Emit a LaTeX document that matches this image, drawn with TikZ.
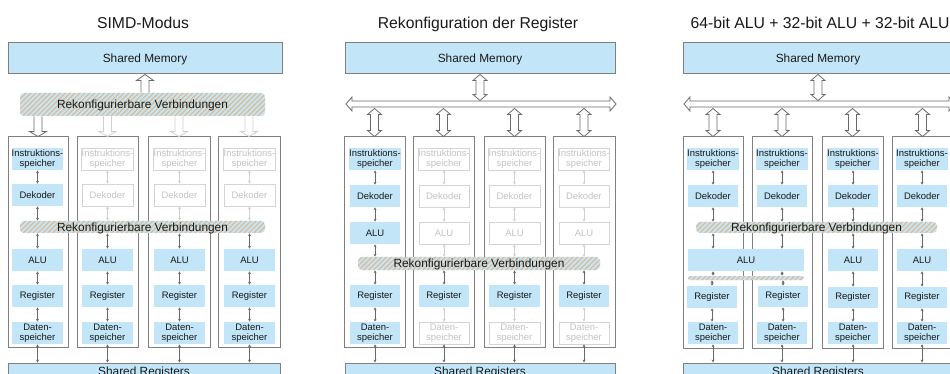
\documentclass[tikz,border=0pt]{standalone}
\usepackage{fontspec}
\setmainfont{Liberation Sans}
\usetikzlibrary{calc,arrows.meta,patterns.meta}
\definecolor{boxblue}{RGB}{194,230,248}
\definecolor{framegray}{RGB}{128,128,128}
\definecolor{ghostline}{RGB}{212,212,212}
\definecolor{ghosttext}{RGB}{195,195,195}
\definecolor{hatchtan}{RGB}{226,186,142}
\definecolor{txt}{RGB}{25,25,25}
\definecolor{arrdark}{RGB}{105,105,105}
\definecolor{arrlight}{RGB}{208,208,208}
% box node from corner (#2,#3) to (#4,#5), in px
\newcommand\bx[7]{\node[#6, minimum width={(#4-#2)*0.75pt}, minimum height={(#5-#3)*0.75pt}] (#1) at ({(#2+#4)/2},{(#3+#5)/2}) {#7};}
% small connectors
\newcommand\va[3]{\draw[#3] (#1.south) -- (#1.south |- #2.north);}
\newcommand\vb[3]{\draw[#3] (#2.north |- #1.south) -- (#2.north);}
\newcommand\vx[4]{\draw[#4] (#3.center |- #1.south) -- (#3.center |- #2.north);}
% hollow arrows
\newcommand\hdown[3]{\filldraw[#3] let \p1=(#1), \p2=(#2) in (\x2-3pt,\y1) -- (\x2-3pt,\y2+3.75pt) -- (\x2-6.4pt,\y2+3.75pt) -- (\x2,\y2) -- (\x2+6.4pt,\y2+3.75pt) -- (\x2+3pt,\y2+3.75pt) -- (\x2+3pt,\y1);}
\newcommand\hup[3]{\filldraw[#3] let \p1=(#1), \p2=(#2) in (\x2-3pt,\y1) -- (\x2-3pt,\y2-4.5pt) -- (\x2-6.4pt,\y2-4.5pt) -- (\x2,\y2) -- (\x2+6.4pt,\y2-4.5pt) -- (\x2+3pt,\y2-4.5pt) -- (\x2+3pt,\y1);}
\newcommand\hboth[3]{\filldraw[#3] let \p1=(#1), \p2=(#2) in (\x2,\y1) -- (\x2+5.25pt,\y1-4.5pt) -- (\x2+3pt,\y1-4.5pt) -- (\x2+3pt,\y2+4.5pt) -- (\x2+5.25pt,\y2+4.5pt) -- (\x2,\y2) -- (\x2-5.25pt,\y2+4.5pt) -- (\x2-3pt,\y2+4.5pt) -- (\x2-3pt,\y1-4.5pt) -- (\x2-5.25pt,\y1-4.5pt) -- cycle;}
\newcommand\hbus[3]{\filldraw[#3] let \p1=(#1), \p2=(#2) in (\x1,\y1) -- (\x1+4.5pt,\y1+5.25pt) -- (\x1+4.5pt,\y1+2.25pt) -- (\x2-4.5pt,\y1+2.25pt) -- (\x2-4.5pt,\y1+5.25pt) -- (\x2,\y1) -- (\x2-4.5pt,\y1-5.25pt) -- (\x2-4.5pt,\y1-2.25pt) -- (\x1+4.5pt,\y1-2.25pt) -- (\x1+4.5pt,\y1-5.25pt) -- cycle;}
\begin{document}
\begin{tikzpicture}[x=0.75pt,y=-0.75pt,
  title/.style={anchor=base, inner sep=0pt, font=\fontsize{11.8}{13}\selectfont, text=txt},
  blk/.style={draw=framegray, line width=0.75pt, fill=boxblue, inner sep=0pt, text depth=0pt, font=\fontsize{8.9}{10}\selectfont, text=txt},
  colbox/.style={draw=framegray, line width=0.75pt, inner sep=0pt},
  act/.style={fill=boxblue, inner sep=0pt, align=center, font=\fontsize{7.1}{7.9}\selectfont, text=txt},
  ghost/.style={fill=white, draw=ghostline, line width=0.6pt, inner sep=0pt, align=center, font=\fontsize{7.1}{7.9}\selectfont, text=ghosttext},
  band/.style={rounded corners=3pt, fill=boxblue, postaction={pattern={Lines[angle=45,distance=2.6pt,line width=0.9pt]}, pattern color=hatchtan}, inner sep=0pt, text depth=0pt, font=\fontsize{8.9}{10}\selectfont, text=txt},
  sband/.style={band, rounded corners=1.5pt},
  sa/.style={arrows={Stealth[length=2.2pt,width=2.2pt]-Stealth[length=2.2pt,width=2.2pt]}, draw=arrdark, line width=0.55pt},
  sal/.style={sa, draw=arrlight},
  hol/.style={draw=arrdark, fill=white, line width=0.6pt, line join=miter},
  holl/.style={hol, draw=arrlight}]
\useasboundingbox (0,0) rectangle (950,374);
\clip (0,0) rectangle (950,374);
\fill[white] (0,0) rectangle (950,374);

%================ Panel 1: SIMD-Modus
\node[title] (t1) at (143,29) {SIMD-Modus};
\bx{sm1}{8}{43}{282}{74}{blk}{Shared Memory}
\bx{sr1}{8}{363}{280}{379}{blk}{Shared Registers}
\bx{a1}{8}{137}{68}{347}{colbox}{}
\bx{a2}{77}{137}{138}{347}{colbox}{}
\bx{a3}{148}{137}{210}{347}{colbox}{}
\bx{a4}{218}{137}{280}{347}{colbox}{}
% column 1
\bx{a1i}{12}{148}{63}{170}{act}{Instruktions-\\speicher}
\bx{a1d}{12}{184}{63}{206}{act}{Dekoder}
\bx{a1u}{12}{249}{63}{271}{act}{ALU}
\bx{a1r}{12}{285}{63}{307}{act}{Register}
\bx{a1s}{12}{322}{63}{344}{act}{Daten-\\speicher}
% column 2
\bx{a2i}{82}{148}{133}{170}{ghost}{Instruktions-\\speicher}
\bx{a2d}{82}{184}{133}{206}{ghost}{Dekoder}
\bx{a2u}{82}{249}{133}{271}{act}{ALU}
\bx{a2r}{82}{285}{133}{307}{act}{Register}
\bx{a2s}{82}{322}{133}{344}{act}{Daten-\\speicher}
% column 3
\bx{a3i}{154}{148}{205}{170}{ghost}{Instruktions-\\speicher}
\bx{a3d}{154}{184}{205}{206}{ghost}{Dekoder}
\bx{a3u}{154}{249}{205}{271}{act}{ALU}
\bx{a3r}{154}{285}{205}{307}{act}{Register}
\bx{a3s}{154}{322}{205}{344}{act}{Daten-\\speicher}
% column 4
\bx{a4i}{224}{148}{275}{170}{ghost}{Instruktions-\\speicher}
\bx{a4d}{224}{184}{275}{206}{ghost}{Dekoder}
\bx{a4u}{224}{249}{275}{271}{act}{ALU}
\bx{a4r}{224}{285}{275}{307}{act}{Register}
\bx{a4s}{224}{322}{275}{344}{act}{Daten-\\speicher}
% bands
\bx{aB}{20}{93}{265}{116}{band}{Rekonfigurierbare Verbindungen}
\bx{aV}{20}{221}{265}{233}{band}{Rekonfigurierbare Verbindungen}
% hollow arrows
\hup{aB.north}{sm1.south}{hol}
\hdown{aB.south -| a1.north}{a1.north}{hol}
\hdown{aB.south -| a2.north}{a2.north}{holl}
\hdown{aB.south -| a3.north}{a3.north}{holl}
\hdown{aB.south -| a4.north}{a4.north}{holl}
% small connectors
\va{a1i}{a1d}{sa} \va{a1d}{aV}{sa} \vb{aV}{a1u}{sa} \va{a1u}{a1r}{sa} \va{a1r}{a1s}{sa} \va{a1s}{sr1}{sa}
\va{a2i}{a2d}{sal} \va{a2d}{aV}{sal} \vb{aV}{a2u}{sa} \va{a2u}{a2r}{sa} \va{a2r}{a2s}{sa} \va{a2s}{sr1}{sa}
\va{a3i}{a3d}{sal} \va{a3d}{aV}{sal} \vb{aV}{a3u}{sa} \va{a3u}{a3r}{sa} \va{a3r}{a3s}{sa} \va{a3s}{sr1}{sa}
\va{a4i}{a4d}{sal} \va{a4d}{aV}{sal} \vb{aV}{a4u}{sa} \va{a4u}{a4r}{sa} \va{a4r}{a4s}{sa} \va{a4s}{sr1}{sa}

%================ Panel 2: Rekonfiguration der Register
\node[title] (t2) at (478,29) {Rekonfiguration der Register};
\bx{sm2}{345}{43}{615}{74}{blk}{Shared Memory}
\bx{sr2}{345}{363}{615}{379}{blk}{Shared Registers}
\bx{b1}{344}{137}{405}{347}{colbox}{}
\bx{b2}{413}{137}{474}{347}{colbox}{}
\bx{b3}{484}{137}{545}{347}{colbox}{}
\bx{b4}{553}{137}{615}{347}{colbox}{}
% column 1
\bx{b1i}{350}{148}{400}{170}{act}{Instruktions-\\speicher}
\bx{b1d}{350}{185}{400}{207}{act}{Dekoder}
\bx{b1u}{350}{222}{400}{244}{act}{ALU}
\bx{b1r}{350}{285}{400}{307}{act}{Register}
\bx{b1s}{350}{322}{400}{344}{act}{Daten-\\speicher}
% column 2
\bx{b2i}{419}{148}{469}{170}{ghost}{Instruktions-\\speicher}
\bx{b2d}{419}{185}{469}{207}{ghost}{Dekoder}
\bx{b2u}{419}{222}{469}{244}{ghost}{ALU}
\bx{b2r}{419}{285}{469}{307}{act}{Register}
\bx{b2s}{419}{322}{469}{344}{ghost}{Daten-\\speicher}
% column 3
\bx{b3i}{489}{148}{540}{170}{ghost}{Instruktions-\\speicher}
\bx{b3d}{489}{185}{540}{207}{ghost}{Dekoder}
\bx{b3u}{489}{222}{540}{244}{ghost}{ALU}
\bx{b3r}{489}{285}{540}{307}{act}{Register}
\bx{b3s}{489}{322}{540}{344}{ghost}{Daten-\\speicher}
% column 4
\bx{b4i}{559}{148}{609}{170}{ghost}{Instruktions-\\speicher}
\bx{b4d}{559}{185}{609}{207}{ghost}{Dekoder}
\bx{b4u}{559}{222}{609}{244}{ghost}{ALU}
\bx{b4r}{559}{285}{609}{307}{act}{Register}
\bx{b4s}{559}{322}{609}{344}{ghost}{Daten-\\speicher}
% band
\bx{bV}{358}{257}{600}{270}{band}{Rekonfigurierbare Verbindungen}
% bus and hollow arrows
\coordinate (bL) at (346,104);
\coordinate (bR) at (616,104);
\coordinate (bT) at (480,100.5);
\coordinate (bD) at (480,108.5);
\hboth{bD -| b1.north}{b1.north}{hol}
\hboth{bD -| b2.north}{b2.north}{hol}
\hboth{bD -| b3.north}{b3.north}{hol}
\hboth{bD -| b4.north}{b4.north}{hol}
\hbus{bL}{bR}{hol}
\hboth{sm2.south}{bT}{hol}
% small connectors
\va{b1i}{b1d}{sa} \va{b1d}{b1u}{sa} \va{b1u}{bV}{sa} \vb{bV}{b1r}{sa} \va{b1r}{b1s}{sa} \va{b1s}{sr2}{sa}
\va{b2i}{b2d}{sal} \va{b2d}{b2u}{sal} \va{b2u}{bV}{sal} \vb{bV}{b2r}{sa} \va{b2r}{b2s}{sal} \va{b2s}{sr2}{sa}
\va{b3i}{b3d}{sal} \va{b3d}{b3u}{sal} \va{b3u}{bV}{sal} \vb{bV}{b3r}{sa} \va{b3r}{b3s}{sal} \va{b3s}{sr2}{sa}
\va{b4i}{b4d}{sal} \va{b4d}{b4u}{sal} \va{b4u}{bV}{sal} \vb{bV}{b4r}{sa} \va{b4r}{b4s}{sal} \va{b4s}{sr2}{sa}

%================ Panel 3: 64-bit ALU + 32-bit ALU + 32-bit ALU
\node[title] (t3) at (820,29) {64-bit ALU + 32-bit ALU + 32-bit ALU};
\bx{sm3}{683}{43}{953}{74}{blk}{Shared Memory}
\bx{sr3}{683}{363}{953}{379}{blk}{Shared Registers}
\bx{c1}{683}{137}{743}{348}{colbox}{}
\bx{c2}{752}{137}{812}{348}{colbox}{}
\bx{c3}{822}{137}{883}{348}{colbox}{}
\bx{c4}{892}{137}{953}{348}{colbox}{}
% column 1
\bx{c1i}{688}{148}{738}{170}{act}{Instruktions-\\speicher}
\bx{c1d}{688}{185}{738}{207}{act}{Dekoder}
\bx{c1r}{687}{286}{737}{308}{act}{Register}
\bx{c1s}{688}{322}{738}{344}{act}{Daten-\\speicher}
% column 2
\bx{c2i}{757}{148}{807}{170}{act}{Instruktions-\\speicher}
\bx{c2d}{757}{185}{807}{207}{act}{Dekoder}
\bx{c2r}{758}{286}{808}{307}{act}{Register}
\bx{c2s}{757}{322}{807}{344}{act}{Daten-\\speicher}
% column 3
\bx{c3i}{828}{148}{878}{170}{act}{Instruktions-\\speicher}
\bx{c3d}{828}{185}{878}{207}{act}{Dekoder}
\bx{c3u}{828}{249}{878}{271}{act}{ALU}
\bx{c3r}{828}{287}{878}{308}{act}{Register}
\bx{c3s}{828}{322}{878}{344}{act}{Daten-\\speicher}
% column 4
\bx{c4i}{897}{148}{947}{170}{act}{Instruktions-\\speicher}
\bx{c4d}{897}{185}{947}{207}{act}{Dekoder}
\bx{c4u}{897}{249}{947}{271}{act}{ALU}
\bx{c4r}{897}{287}{947}{308}{act}{Register}
\bx{c4s}{897}{322}{947}{344}{act}{Daten-\\speicher}
% wide ALU and bands
\bx{cW}{688}{249}{804}{271}{act}{ALU}
\bx{cS}{688}{276}{804}{280}{sband}{}
\bx{cV}{696}{222}{937}{233}{band}{Rekonfigurierbare Verbindungen}
% bus and hollow arrows
\coordinate (cL) at (684,104);
\coordinate (cR) at (955,104);
\coordinate (cT) at (818,100.5);
\coordinate (cD) at (818,108.5);
\hboth{cD -| c1.north}{c1.north}{hol}
\hboth{cD -| c2.north}{c2.north}{hol}
\hboth{cD -| c3.north}{c3.north}{hol}
\hboth{cD -| c4.north}{c4.north}{hol}
\hbus{cL}{cR}{hol}
\hboth{sm3.south}{cT}{hol}
% small connectors
\va{c1i}{c1d}{sa} \va{c1d}{cV}{sa} \vx{cV}{cW}{c1i}{sa} \vx{cW}{cS}{c1i}{sa} \vb{cS}{c1r}{sa} \va{c1r}{c1s}{sa} \va{c1s}{sr3}{sa}
\va{c2i}{c2d}{sa} \va{c2d}{cV}{sa} \vx{cV}{cW}{c2i}{sa} \vx{cW}{cS}{c2i}{sa} \vb{cS}{c2r}{sa} \va{c2r}{c2s}{sa} \va{c2s}{sr3}{sa}
\va{c3i}{c3d}{sa} \va{c3d}{cV}{sa} \vb{cV}{c3u}{sa} \va{c3u}{c3r}{sa} \va{c3r}{c3s}{sa} \va{c3s}{sr3}{sa}
\va{c4i}{c4d}{sa} \va{c4d}{cV}{sa} \vb{cV}{c4u}{sa} \va{c4u}{c4r}{sa} \va{c4r}{c4s}{sa} \va{c4s}{sr3}{sa}
\end{tikzpicture}
\end{document}
